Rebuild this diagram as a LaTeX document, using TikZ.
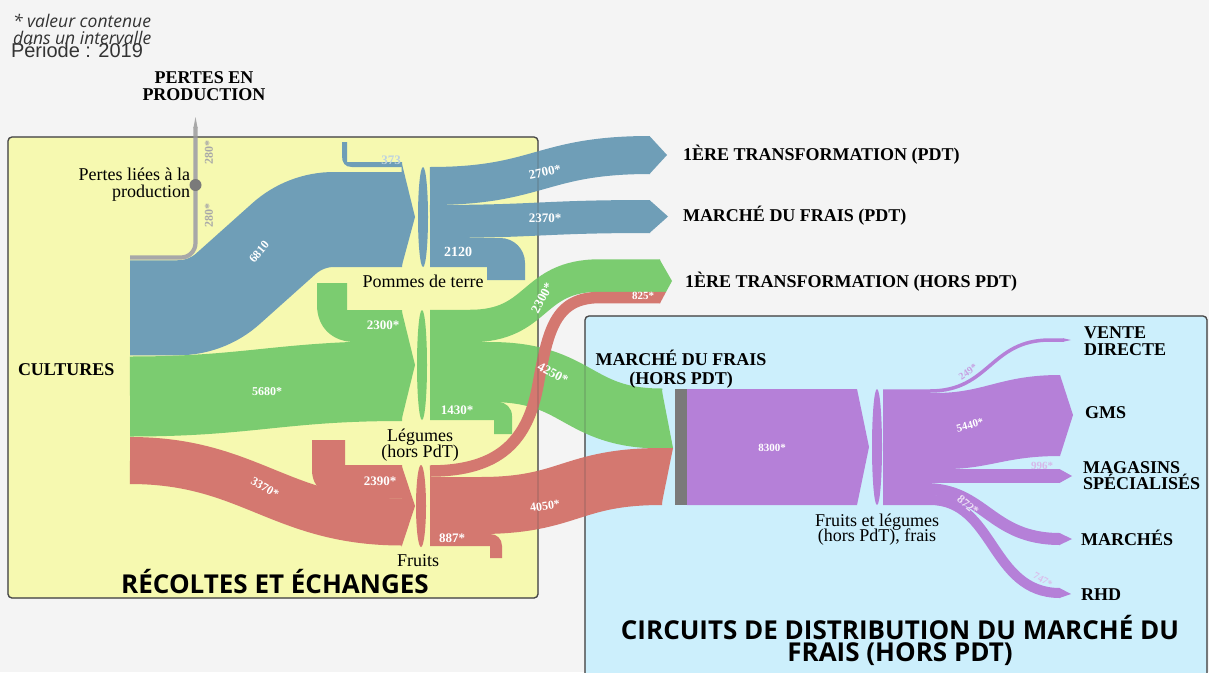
\documentclass[tikz,border=0pt]{standalone}
\usepackage{fontspec}
\setmainfont{Liberation Serif}
\newfontfamily\osans{Open Sans}
\newfontfamily\lsans{Liberation Sans}
\definecolor{bgc}{HTML}{F4F4F4}
\definecolor{cyel}{HTML}{F6F9B0}
\definecolor{cbox}{HTML}{CCEFFC}
\definecolor{boxline}{HTML}{4A4A4A}
\definecolor{cblue}{RGB}{111,158,183}
\definecolor{cgreen}{RGB}{123,204,112}
\definecolor{cred}{RGB}{212,120,112}
\definecolor{cpurple}{RGB}{181,128,216}
\definecolor{cgnode}{HTML}{7A7A7A}
\definecolor{cgband}{HTML}{A8A8A8}
\definecolor{ctxt}{HTML}{333333}
\begin{document}
\begin{tikzpicture}[x=1pt,y=-1pt,
  every node/.style={inner sep=0pt, outer sep=0pt},
  flw/.style={text=white, font=\bfseries\fontsize{#1}{#1}\selectfont},
  flw/.default=12,
  tgt/.style={anchor=base west, font=\bfseries\fontsize{18}{18}\selectfont, text=black},
  ttl/.style={anchor=base, font=\bfseries\fontsize{18}{18}\selectfont, text=black},
  nlbl/.style={anchor=base, font=\fontsize{18}{18}\selectfont, text=black},
  boxt/.style={anchor=base, font=\osans\bfseries\fontsize{26}{26}\selectfont, text=black},
  boxframe/.style={draw=boxline, line width=1.3pt, rounded corners=4pt}]
\useasboundingbox (0,0) rectangle (1209,672);
\fill[bgc] (0,0) rectangle (1209,672);
% boxes
\filldraw[fill=cyel, boxframe] (8,137) rectangle (538,598);
\filldraw[fill=cbox, boxframe] (585,316) rectangle (1207,700);

% named coordinates
\coordinate (cG) at (130,257.5);
\coordinate (lossN) at (195.5,185);
\coordinate (lossTop) at (195.5,127);
\coordinate (cB) at (130,307.75);
\coordinate (pB) at (402,219.5);
\coordinate (cV) at (130,396.5);
\coordinate (lV) at (402,381);
\coordinate (cR) at (130,460.5);
\coordinate (fR) at (402,522);
\coordinate (pOa) at (430,186);
\coordinate (tPa) at (650,155);
\coordinate (pOb) at (430,221.5);
\coordinate (tPb) at (650,216.5);
\coordinate (lOa) at (430,326);
\coordinate (tHa) at (660,275.5);
\coordinate (lOb) at (430,372);
\coordinate (mfG) at (662,418.5);
\coordinate (fOa) at (430,471);
\coordinate (tHb) at (660,297.5);
\coordinate (fOb) at (430,505.5);
\coordinate (mfR) at (662,476.5);
\coordinate (dA) at (883,391);
\coordinate (tVD) at (1064,340);
\coordinate (dC) at (883,476);
\coordinate (tMS) at (1060,476);
\coordinate (dD) at (883,489);
\coordinate (tMA) at (1060,539);
\coordinate (dE) at (883,500);
\coordinate (tRH) at (1060,593);

% potatoes
\draw[cblue, line width=95pt] (cB) -- (178,307.75) .. controls (196.53,307.75) and (214.43,300.9) .. (228.2,288.5) -- (283.8,238.8) .. controls (297.57,226.4) and (315.47,219.5) .. (334,219.5) -- (pB);
\fill[cblue] (342,142) -- (342,156) .. controls (342,163) and (345,167) .. (352,167) -- (402,167) -- (402,162) -- (347,162) -- (347,142) -- cycle;
\fill[cblue] (401.5,162) -- (415,217) -- (401.5,267) -- cycle;
\fill[cblue] (423,217) ellipse [x radius=5pt, y radius=50pt];
\draw[cblue, line width=38pt] (pOa) .. controls +(110,0) and +(-110,0) .. (tPa);
\fill[cblue] (649.5,136) -- (667,155) -- (649.5,174) -- cycle;
\draw[cblue, line width=33pt] (pOb) .. controls +(110,0) and +(-110,0) .. (tPb);
\fill[cblue] (649.5,200) -- (668,216.5) -- (649.5,233) -- cycle;
\fill[cblue] (430,238) -- (500,238) .. controls (514,238) and (525,249) .. (525,263) -- (525,280) -- (487,280) -- (487,267) -- (430,267) -- cycle;

% losses
\draw[cgband, line width=4.2pt] (cG) -- (181,257.5) .. controls (189,257.5) and (195.5,251) .. (195.5,243) -- (lossTop);
\fill[cgband] (193.4,128) -- (195.5,117) -- (197.6,128) -- cycle;
\fill[cgnode] (lossN) circle (6pt);

% vegetables
\draw[cgreen, line width=80pt] (cV) .. controls +(120,0) and +(-122,0) .. (lV);
\fill[cgreen] (317,283) -- (317,305) .. controls (317,327) and (332,342) .. (355,342) -- (402,342) -- (402,310) -- (347,310) -- (347,283) -- cycle;
\fill[cgreen] (401.5,310) -- (415,365) -- (401.5,420) -- cycle;
\fill[cgreen] (422,365) ellipse [x radius=5pt, y radius=55pt];
\draw[cgreen, line width=32.5pt] (lOa) -- (470,326) .. controls (540,326) and (530,275.5) .. (600,275.5) -- (tHa);
\fill[cgreen] (659.5,259.25) -- (672,281) -- (666,292) -- (659.5,292) -- cycle;
\draw[cgreen, line width=60pt] (lOb) -- (490,372) .. controls (580,372) and (575,418.5) .. (mfG);
\fill[cgreen] (661.5,388.5) -- (673,448) -- (661.5,448) -- cycle;
\fill[cgreen] (430,402) -- (498,402) .. controls (506,402) and (512,408) .. (512,416) -- (512,434) -- (494,434) -- (494,420) -- (430,420) -- cycle;

% fruits
\draw[cred, line width=47pt] (cR) .. controls +(120,0) and +(-122,0) .. (fR);
\fill[cred] (312,440) -- (312,470) .. controls (312,487) and (325,498.5) .. (345,498.5) -- (402,498.5) -- (402,465) -- (345,465) -- (345,440) -- cycle;
\fill[cred] (401.5,465) -- (415,506) -- (401.5,547) -- cycle;
\fill[cred] (421,506) ellipse [x radius=5pt, y radius=41pt];
\draw[cred, line width=57pt] (fOb) -- (480,505.5) .. controls (570,505.5) and (570,476.5) .. (mfR);
\fill[cred] (661.5,448) -- (673,448) -- (661.5,505) -- cycle;
\fill[cred] (430,534) -- (490,534) .. controls (497,534) and (502,539) .. (502,546) -- (502,558) -- (490,558) -- (490,546) -- (430,546) -- cycle;
\draw[cred, line width=11.5pt] (fOa) .. controls (500,471) and (528,440) .. (538,385) .. controls (548,330) and (555,297.5) .. (600,297.5) -- (tHb);
\fill[cred] (659.5,291.75) -- (666,292) -- (660,303.25) -- (659.5,303.25) -- cycle;

% market node and distribution
\fill[cgnode] (675,389) rectangle (687,505);
\fill[cpurple] (687,389) -- (857,389) -- (869,447) -- (857,505) -- (687,505) -- cycle;
\fill[cpurple] (877,447) ellipse [x radius=5pt, y radius=58pt];
\draw[cpurple, line width=3.5pt] (dA) -- (930,391) .. controls (990,391) and (990,340) .. (1050,340) -- (tVD);
\fill[cpurple] (1063,338.25) -- (1071,340) -- (1063,341.75) -- cycle;
\fill[cpurple] (883,393) -- (935,393) .. controls (985,393) and (1000,375) .. (1060,375) -- (1073,415) -- (1060,456) .. controls (1005,456) and (990,469) .. (945,469) -- (883,469) -- cycle;
\draw[cpurple, line width=14pt] (dC) -- (tMS);
\fill[cpurple] (1059.5,469) -- (1072,476) -- (1059.5,483) -- cycle;
\draw[cpurple, line width=12pt] (dD) -- (925,489) .. controls (985,489) and (990,539) .. (tMA);
\fill[cpurple] (1059.5,533) -- (1072,539) -- (1059.5,545) -- cycle;
\draw[cpurple, line width=10pt] (dE) -- (930,500) .. controls (995,500) and (990,593) .. (tRH);
\fill[cpurple] (1059.5,588) -- (1071,594) -- (1059.5,598) -- cycle;

% faint box frames over the bands
\draw[boxframe, draw opacity=0.3] (8,137) rectangle (538,598);
\draw[boxframe, draw opacity=0.3] (585,316) rectangle (1207,700);

% flow labels
\node[flw=12, rotate=50] (l6810) at (259,252) {6810};
\node[flw=12] (l5680) at (267,392) {5680*};
\node[flw=12, rotate=-30] (l3370) at (265,488) {3370*};
\node[flw=13, text=cblue!45!white] (l373) at (391,160) {373};
\node[flw=13, rotate=12] (l2700) at (545,172) {2700*};
\node[flw=13] (l2370) at (545,218) {2370*};
\node[flw=14] (l2120) at (458,252) {2120};
\node[flw=13] (l2300i) at (383,325) {2300*};
\node[flw=13, rotate=62] (l2300o) at (542,298) {2300*};
\node[flw=13, rotate=-28] (l4250) at (553,373) {4250*};
\node[flw=13] (l1430) at (457,410) {1430*};
\node[flw=13] (l2390) at (380,481) {2390*};
\node[flw=13] (l887) at (452,538) {887*};
\node[flw=12, rotate=8] (l4050) at (545,506) {4050*};
\node[flw=11] (l825) at (643,296) {825*};
\node[flw=11] (l8300) at (772,448) {8300*};
\node[flw=11, rotate=15] (l5440) at (970,425) {5440*};
\node[flw=10, rotate=35, text=cpurple!75!white] (l249) at (968,372) {249*};
\node[flw=11, text=cpurple!55!white] (l996) at (1042,466) {996*};
\node[flw=12, rotate=-40, text=cpurple!25!white] (l872) at (968,505) {872*};
\node[flw=10, rotate=-30, text=cpurple!50!white] (l747) at (1043,580) {747*};
\node[flw=12, rotate=90, text=cgband] (l280a) at (209,152) {280*};
\node[flw=12, rotate=90, text=cgband] (l280b) at (209,215) {280*};

% node labels
\node[ttl] (pertesA) at (204,83) {PERTES EN};
\node[ttl] (pertesB) at (204,100) {PRODUCTION};
\node[nlbl, anchor=base east] (plA) at (190,180) {Pertes liées à la};
\node[nlbl, anchor=base east] (plB) at (190,197) {production};
\node[tgt] (cult) at (18,375) {CULTURES};
\node[nlbl] (pdt) at (423,287) {Pommes de terre};
\node[nlbl] (legA) at (420,441) {Légumes};
\node[nlbl] (legB) at (420,457) {(hors PdT)};
\node[nlbl] (fru) at (418,566) {Fruits};
\node[ttl] (mfA) at (681,365) {MARCHÉ DU FRAIS};
\node[ttl] (mfB) at (681,384) {(HORS PDT)};
\node[nlbl] (flA) at (877,526) {Fruits et légumes};
\node[nlbl] (flB) at (877,541) {(hors PdT), frais};
\node[tgt] (t1) at (683,160) {1ÈRE TRANSFORMATION (PDT)};
\node[tgt] (t2) at (683,221) {MARCHÉ DU FRAIS (PDT)};
\node[tgt] (t3) at (685,287) {1ÈRE TRANSFORMATION (HORS PDT)};
\node[tgt] (t4a) at (1084,338) {VENTE};
\node[tgt] (t4b) at (1084,355) {DIRECTE};
\node[tgt] (t5) at (1085,418) {GMS};
\node[tgt] (t6a) at (1083,473) {MAGASINS};
\node[tgt] (t6b) at (1083,489) {SPÉCIALISÉS};
\node[tgt] (t7) at (1081,545) {MARCHÉS};
\node[tgt] (t8) at (1081,600) {RHD};

% box titles
\node[boxt] (bt1) at (275,593) {RÉCOLTES ET ÉCHANGES};
\node[boxt] (bt2a) at (900,639) {CIRCUITS DE DISTRIBUTION DU MARCHÉ DU};
\node[boxt] (bt2b) at (900,661) {FRAIS (HORS PDT)};

% header texts
\node[anchor=base west, font=\osans\itshape\fontsize{17.5}{17.5}\selectfont, text=ctxt] (note1) at (13,27) {* valeur contenue};
\node[anchor=base west, font=\osans\itshape\fontsize{17.5}{17.5}\selectfont, text=ctxt] (note2) at (13,44) {dans un intervalle};
\node[anchor=base west, font=\lsans\fontsize{20}{20}\selectfont, text=ctxt] (periode) at (11,57) {Période : 2019};
\end{tikzpicture}
\end{document}
